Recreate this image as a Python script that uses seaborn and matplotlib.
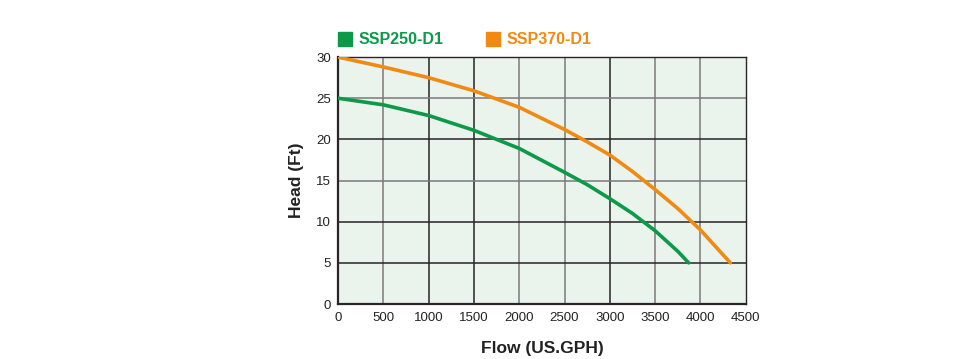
# Pump performance curves: SSP250-D1 / SSP370-D1
import pandas as pd
import seaborn as sns
import matplotlib.pyplot as plt
from matplotlib.lines import Line2D

# data
flow_250 = [0, 500, 1000, 1500, 2000, 2500, 2750, 3000, 3250, 3500, 3750, 3870]
head_250 = [25.0, 24.2, 22.9, 21.1, 18.9, 16.0, 14.5, 12.8, 11.0, 8.9, 6.4, 5.0]
flow_370 = [0, 500, 1000, 1500, 2000, 2500, 2750, 3000, 3250, 3500, 3750, 4000, 4330]
head_370 = [30.0, 28.8, 27.5, 25.9, 23.9, 21.2, 19.7, 18.1, 16.1, 13.9, 11.6, 9.0, 5.0]
models = ['SSP250-D1', 'SSP370-D1']
x_ticks = [0, 500, 1000, 1500, 2000, 2500, 3000, 3500, 4000, 4500]
y_ticks = [0, 5, 10, 15, 20, 25, 30]

df = pd.concat([
    pd.DataFrame({'Flow': flow_250, 'Head': head_250, 'Model': models[0]}),
    pd.DataFrame({'Flow': flow_370, 'Head': head_370, 'Model': models[1]}),
])

sns.set_theme(style='white')
plt.rcParams['font.family'] = ['Liberation Sans', 'DejaVu Sans']
colors = {'SSP250-D1': '#0c9a48', 'SSP370-D1': '#f08a12'}

fig = plt.figure(figsize=(9.62, 3.59), dpi=100)
ax = fig.add_axes([0.3514, 0.1532, 0.4238, 0.6878])
ax.set_facecolor('#eaf3ec')

# grid lines (mix of grey and dark like the original)
grey, dark = '#7a7a7a', '#2a2424'
vcol = {500: grey, 1000: dark, 1500: dark, 2000: grey, 2500: grey, 3000: dark, 3500: grey, 4000: grey}
for v, c in vcol.items():
    ax.axvline(v, color=c, lw=1.1, zorder=1)
hcol = {5: dark, 10: dark, 15: grey, 20: dark, 25: grey}
for h, c in hcol.items():
    ax.axhline(h, color=c, lw=1.1, zorder=1)

sns.lineplot(data=df, x='Flow', y='Head', hue='Model', palette=colors,
             linewidth=2.6, legend=False, ax=ax, zorder=3, sort=False)

ax.set_xlim(0, 4500)
ax.set_ylim(0, 30)
ax.set_xticks(x_ticks)
ax.set_yticks(y_ticks)
ax.tick_params(axis='both', labelsize=9.5, length=0, colors='#222222')
ax.tick_params(axis='x', pad=6)
ax.tick_params(axis='y', pad=5)
for s in ['left', 'bottom']:
    ax.spines[s].set_color('#2a2424')
    ax.spines[s].set_linewidth(1.6)
for s in ['top', 'right']:
    ax.spines[s].set_color('#2a2424')
    ax.spines[s].set_linewidth(1.0)

ax.set_xlabel('Flow (US.GPH)', fontsize=12.5, fontweight='bold', color='#222222', labelpad=12)
ax.set_ylabel('Head (Ft)', fontsize=12.5, fontweight='bold', color='#222222', labelpad=9)

handles = [Line2D([0], [0], marker='s', linestyle='', markersize=10,
                  markerfacecolor=colors[m], markeredgecolor=colors[m]) for m in models]
leg = ax.legend(handles, models, ncol=2, frameon=False, loc='lower left',
                bbox_to_anchor=(0.0, 1.04), borderaxespad=0, borderpad=0,
                handlelength=0.9, handletextpad=0.4, columnspacing=2.6,
                prop={'weight': 'bold', 'size': 11.5})
for t, m in zip(leg.get_texts(), models):
    t.set_color(colors[m])

plt.savefig('out.png', dpi=100)
